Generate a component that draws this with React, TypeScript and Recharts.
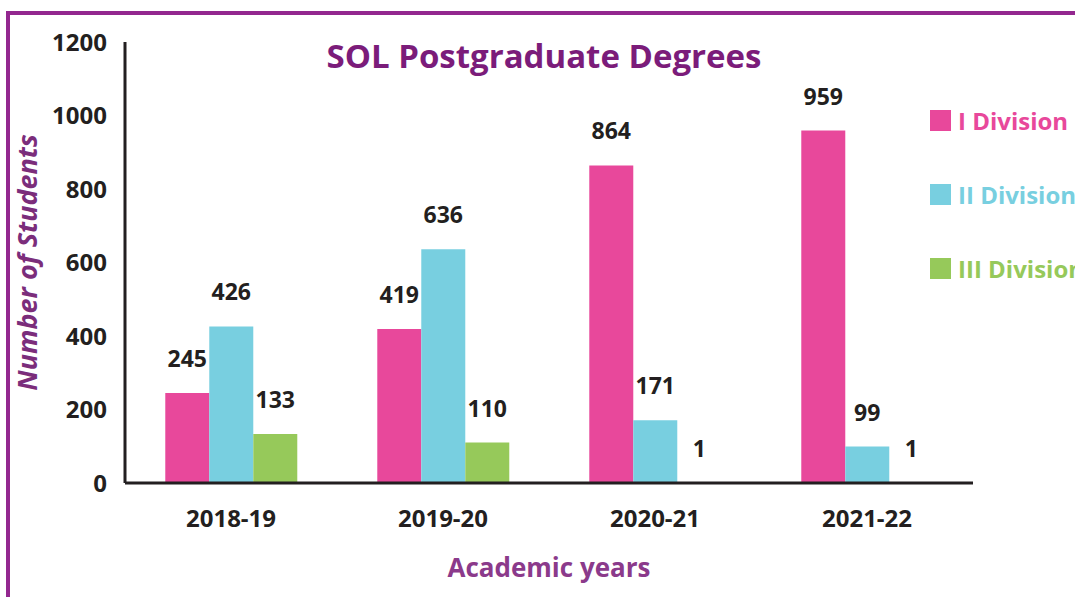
import React from "react";
import {
  BarChart,
  Bar,
  XAxis,
  YAxis,
  LabelList,
  Label,
} from "recharts";

// academic years and the three division counts
const years = ["2018-19", "2019-20", "2020-21", "2021-22"];
const firstDivision = [245, 419, 864, 959];
const secondDivision = [426, 636, 171, 99];
const thirdDivision = [133, 110, 1, 1];
const yTicks = [0, 200, 400, 600, 800, 1000, 1200];

const series = [
  { key: "first", name: "I Division", color: "#E8489B" },
  { key: "second", name: "II Division", color: "#78CFE0" },
  { key: "third", name: "III Division", color: "#96C95A" },
];

const data = years.map((year, i) => ({
  year,
  first: firstDivision[i],
  second: secondDivision[i],
  third: thirdDivision[i],
}));

const FONT = "'Open Sans', 'DejaVu Sans', sans-serif";
const DARK = "#231F20";

// legend on the right: square + coloured text, one per row
const SideLegend = () => (
  <div style={{ position: "absolute", left: 930, top: 110, fontFamily: FONT }}>
    {series.map((s) => (
      <div
        key={s.key}
        style={{
          display: "flex",
          alignItems: "center",
          height: 21,
          marginBottom: 53,
          whiteSpace: "nowrap",
        }}
      >
        <span
          style={{
            display: "inline-block",
            width: 21,
            height: 21,
            background: s.color,
            marginRight: 7,
          }}
        />
        <span style={{ color: s.color, fontWeight: 700, fontSize: 24 }}>
          {s.name}
        </span>
      </div>
    ))}
  </div>
);

export default function App() {
  return (
    <div
      style={{
        position: "absolute",
        left: 0,
        top: 0,
        width: 1075,
        height: 597,
        overflow: "hidden",
        background: "#fff",
        fontFamily: FONT,
      }}
    >
      {/* purple frame, left and top edges */}
      <div
        style={{
          position: "absolute",
          left: 6,
          top: 11,
          right: -10,
          bottom: -10,
          borderLeft: "4px solid #93278F",
          borderTop: "4px solid #93278F",
        }}
      />
      <div
        style={{
          position: "absolute",
          left: 0,
          width: 1088,
          top: 35,
          textAlign: "center",
          color: "#7B1C7A",
          fontWeight: 700,
          fontSize: 33,
          lineHeight: "42px",
        }}
      >
        SOL Postgraduate Degrees
      </div>
      <BarChart
        width={1075}
        height={597}
        data={data}
        margin={{ top: 42, right: 102, bottom: 0, left: 0 }}
        barCategoryGap="19%"
        barGap={0}
        style={{ position: "absolute", left: 0, top: 0 }}
      >
        <XAxis
          dataKey="year"
          height={114}
          axisLine={{ stroke: DARK, strokeWidth: 3 }}
          tickLine={false}
          tickSize={0}
          tickMargin={27}
          tick={{ fill: DARK, fontSize: 24, fontWeight: 700, fontFamily: FONT }}
        >
          <Label
            value="Academic years"
            position="insideBottom"
            offset={20}
            style={{
              fill: "#8B3A8B",
              fontSize: 26,
              fontWeight: 700,
              fontFamily: FONT,
            }}
          />
        </XAxis>
        <YAxis
          width={125}
          domain={[0, 1200]}
          ticks={yTicks}
          interval={0}
          axisLine={{ stroke: DARK, strokeWidth: 3 }}
          tickLine={false}
          tickSize={0}
          tickMargin={18}
          tick={{ fill: DARK, fontSize: 24, fontWeight: 700, fontFamily: FONT }}
        >
          <Label
            content={(props: any) => {
              const vb = props.viewBox;
              const cx = vb.x + 26;
              const cy = vb.y + vb.height / 2;
              return (
                <text
                  x={cx}
                  y={cy}
                  transform={`rotate(-90, ${cx}, ${cy})`}
                  textAnchor="middle"
                  dominantBaseline="central"
                  fill="#7B2D7B"
                  fontSize={27}
                  fontWeight={700}
                  fontStyle="italic"
                  fontFamily={FONT}
                >
                  Number of Students
                </text>
              );
            }}
          />
        </YAxis>
        {series.map((s) => (
          <Bar
            key={s.key}
            dataKey={s.key}
            name={s.name}
            fill={s.color}
            isAnimationActive={false}
          >
            <LabelList
              dataKey={s.key}
              position="top"
              offset={26}
              style={{
                fill: DARK,
                fontSize: 23,
                fontWeight: 700,
                fontFamily: FONT,
              }}
            />
          </Bar>
        ))}
      </BarChart>
      <SideLegend />
    </div>
  );
}
